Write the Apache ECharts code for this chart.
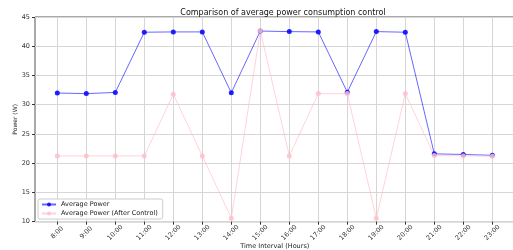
<!DOCTYPE html>
<html>
<head>
<meta charset="utf-8">
<script src="https://cdn.jsdelivr.net/npm/echarts@6/dist/echarts.min.js"></script>
<style>html,body{margin:0;padding:0;background:#fff}#c{width:513px;height:250px}</style>
</head>
<body>
<div id="c"></div>
<script>
const categories = ['8:00','9:00','10:00','11:00','12:00','13:00','14:00','15:00','16:00','17:00','18:00','19:00','20:00','21:00','22:00','23:00'];
const averagePower = [32.0, 31.9, 32.1, 42.4, 42.45, 42.45, 32.05, 42.6, 42.5, 42.45, 32.15, 42.5, 42.4, 21.6, 21.5, 21.35];
const averagePowerAfter = [21.25, 21.25, 21.25, 21.25, 31.8, 21.25, 10.6, 42.65, 21.25, 31.9, 31.9, 10.6, 31.9, 21.3, 21.25, 21.2];
const yTicks = {min: 10, max: 45, interval: 5};

const font = 'DejaVu Sans';
const chart = echarts.init(document.getElementById('c'));
chart.setOption({
  animation: false,
  textStyle: {fontFamily: font},
  title: {
    text: 'Comparison of average power consumption control',
    left: 278, top: 4, textAlign: 'center',
    textStyle: {fontSize: 8, fontWeight: 'normal', color: '#111', fontFamily: font}
  },
  legend: {
    orient: 'vertical', left: 38, top: 199,
    backgroundColor: '#fff', borderColor: '#ccc', borderWidth: 1, borderRadius: 2,
    padding: [2, 5, 2, 3], itemGap: 2, itemWidth: 14, itemHeight: 5,
    textStyle: {fontSize: 6.5, color: '#222', fontFamily: font},
    data: ['Average Power', 'Average Power (After Control)']
  },
  grid: [
    {left: 35, right: -1, top: 17, bottom: 28.3, outerBoundsMode: 'none', containLabel: false, show: true, borderColor: '#555', borderWidth: 1, backgroundColor: 'transparent'},
    {left: 57.3, right: 20.7, top: 17, bottom: 28.3, outerBoundsMode: 'none', containLabel: false}
  ],
  xAxis: [
    {gridIndex: 0, type: 'value', min: 0, max: 1, show: false},
    {
      gridIndex: 1, type: 'category', data: categories, boundaryGap: false,
      axisLine: {show: false},
      axisTick: {show: true, length: 3, lineStyle: {color: '#333'}},
      splitLine: {show: true, interval: 0, lineStyle: {color: '#d6d6d6', width: 1}},
      axisLabel: {interval: 0, rotate: 45, align: 'center', verticalAlign: 'middle', margin: 11, fontSize: 6.5, color: '#333', fontFamily: font},
      name: 'Time Interval (Hours)', nameLocation: 'middle', nameGap: 21, nameMoveOverlap: false,
      nameTextStyle: {fontSize: 6.5, color: '#222', fontFamily: font, verticalAlign: 'top'}
    }
  ],
  yAxis: [
    {
      gridIndex: 0, type: 'value', min: yTicks.min, max: yTicks.max, interval: yTicks.interval,
      axisLine: {show: false},
      axisTick: {show: true, length: 3, lineStyle: {color: '#333'}},
      splitLine: {show: true, lineStyle: {color: '#d6d6d6', width: 1}},
      axisLabel: {fontSize: 6.5, color: '#333', margin: 5, fontFamily: font},
      name: 'Power (W)', nameLocation: 'middle', nameGap: 17, nameMoveOverlap: false,
      nameTextStyle: {fontSize: 6, color: '#222', fontFamily: font}
    },
    {gridIndex: 1, type: 'value', min: yTicks.min, max: yTicks.max, show: false}
  ],
  series: [
    {
      name: 'Average Power', type: 'line', xAxisIndex: 1, yAxisIndex: 1,
      data: averagePower, symbol: 'circle', symbolSize: 5,
      lineStyle: {color: 'rgba(0,0,255,0.6)', width: 1},
      itemStyle: {color: 'rgba(10,10,255,0.9)'}
    },
    {
      name: 'Average Power (After Control)', type: 'line', xAxisIndex: 1, yAxisIndex: 1,
      data: averagePowerAfter, symbol: 'circle', symbolSize: 5,
      lineStyle: {color: 'rgba(255,192,203,0.7)', width: 1},
      itemStyle: {color: 'rgba(255,192,203,0.85)'}
    }
  ]
});
</script>
</body>
</html>
